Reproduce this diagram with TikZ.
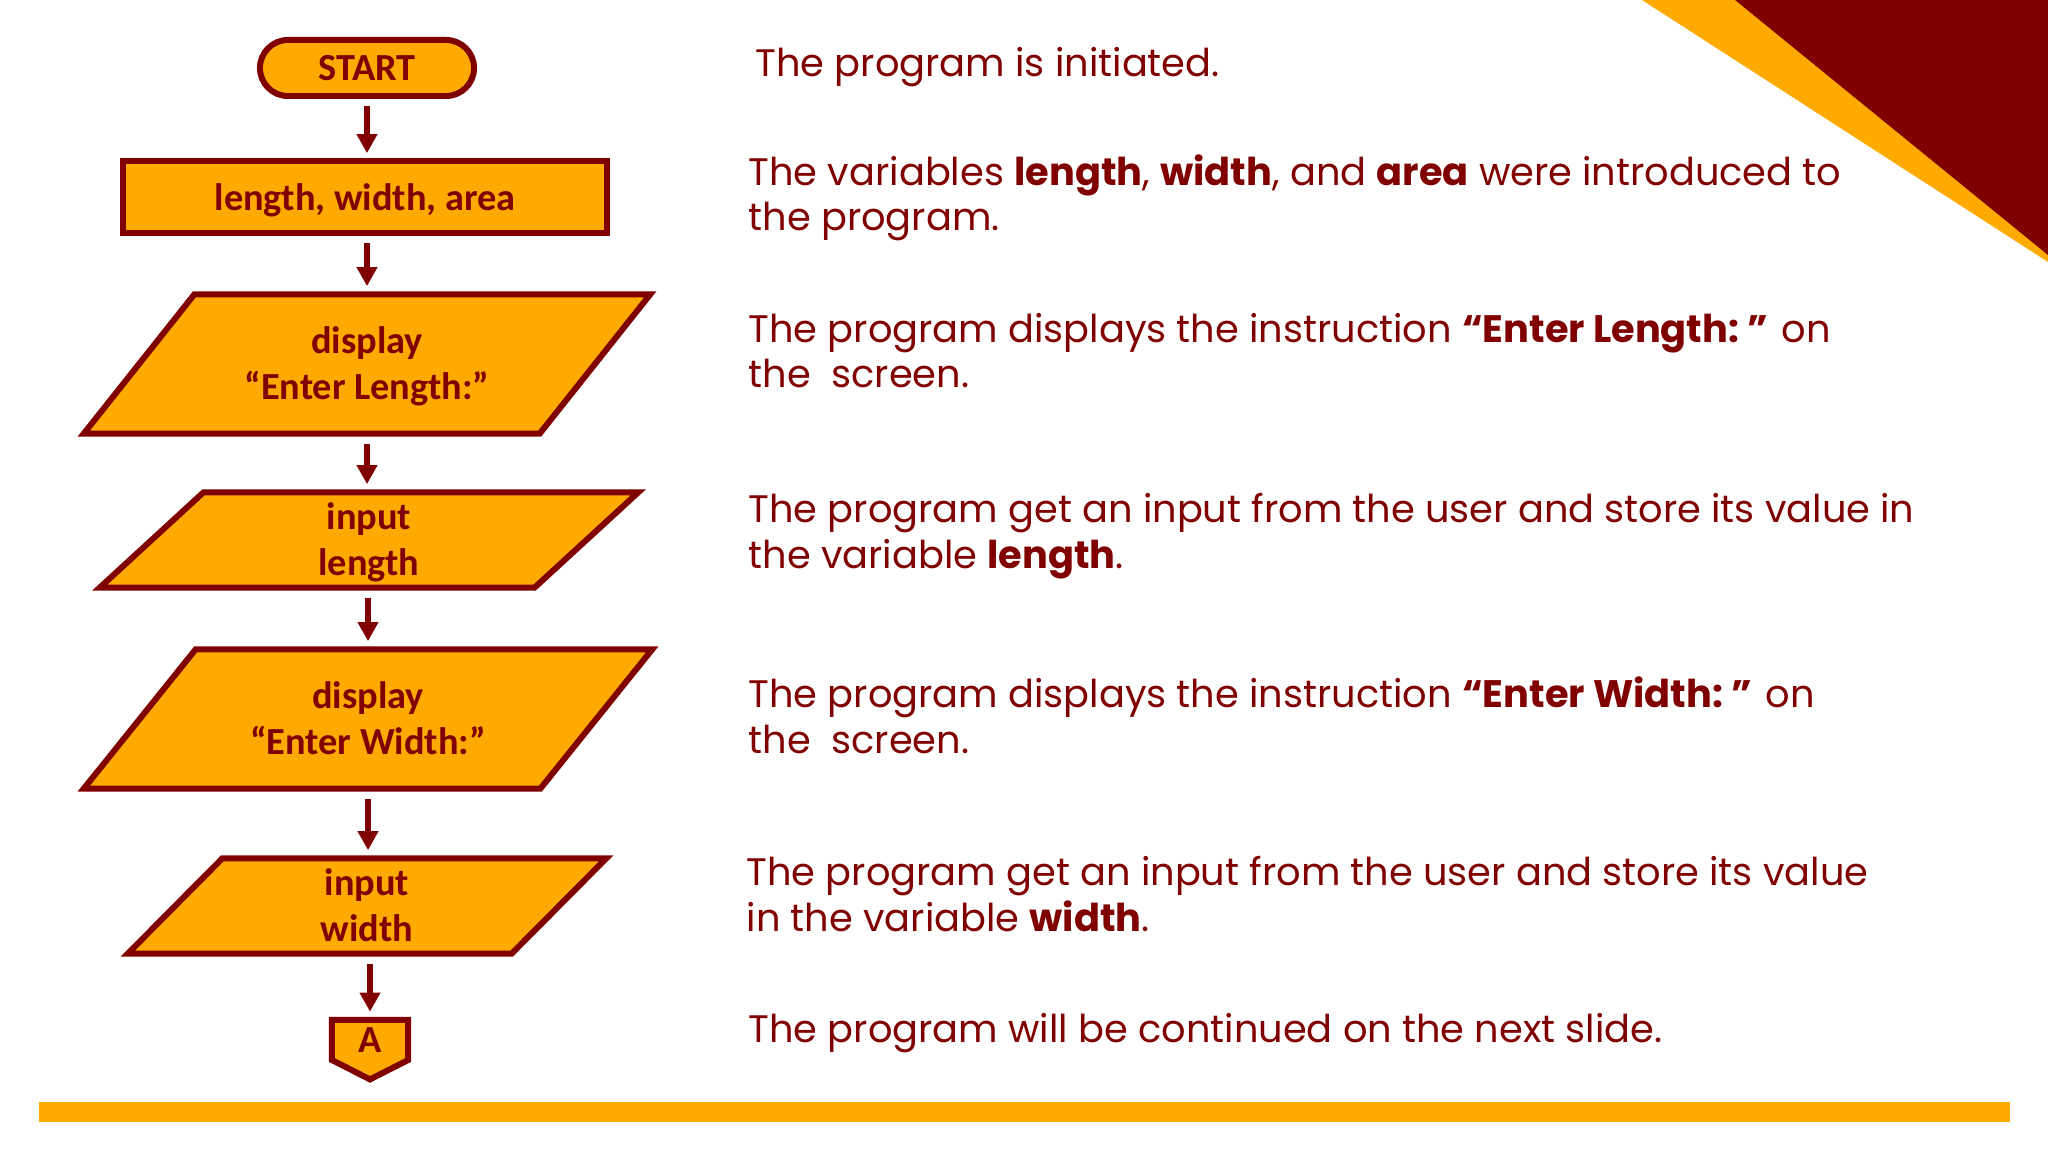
\documentclass[tikz,border=0pt]{standalone}
\usepackage{fontspec}
\setmainfont{Poppins}
\newfontfamily\flowfont{Carlito}
\usetikzlibrary{arrows.meta,shapes.geometric,shapes.misc,shapes.symbols}
\definecolor{maroon}{RGB}{128,0,0}
\definecolor{amber}{RGB}{255,170,0}
\tikzset{
  box/.style={draw=maroon, fill=amber, line width=1.7pt, text=maroon, align=center, inner sep=0pt, text depth=0pt,
    font=\flowfont\bfseries\fontsize{10.9}{13}\selectfont},
  iobox/.style={box, trapezium, trapezium stretches body, text height=20pt},
  flowarrow/.style={maroon, line width=1.7pt, -{Triangle[width=5.6pt,length=5.4pt]}, shorten <=2pt, shorten >=1.5pt},
  note/.style={anchor=base west, align=left, text=maroon, inner sep=0pt, font=\fontsize{10.9}{12.8}\selectfont}
}
\begin{document}
\begin{tikzpicture}[x=0.01cm,y=-0.01cm]
  \useasboundingbox (0,0) rectangle (2048,1152);
  \fill[amber] (1642,0) -- (2048,0) -- (2048,262) -- cycle;
  \fill[maroon] (1735,0) -- (2048,0) -- (2048,255) -- cycle;
  \fill[amber] (39,1102) rectangle (2010,1122);

  \node[box, rounded rectangle, minimum width=2.14cm, minimum height=0.56cm] (start) at (367,68) {START};
  \node[box, minimum width=4.84cm, minimum height=0.71cm] (vars) at (365,197) {length, width, area};
  \node[iobox, trapezium left angle=32.5, trapezium right angle=147.5, minimum width=5.66cm, minimum height=1.39cm] (dispL) at (367,364) {display\\“Enter Length:”};
  \node[iobox, trapezium left angle=34.2, trapezium right angle=145.8, minimum width=5.38cm, minimum height=0.95cm] (inL) at (369,540) {input\\length};
  \node[iobox, trapezium left angle=32.2, trapezium right angle=147.8, minimum width=5.68cm, minimum height=1.39cm] (dispW) at (368,719) {display\\“Enter Width:”};
  \node[iobox, trapezium left angle=36.7, trapezium right angle=143.3, minimum width=4.78cm, minimum height=0.95cm] (inW) at (367,906) {input\\width};
  \node[box, signal, signal to=south, signal pointer angle=126, minimum width=0.76cm, minimum height=0.46cm] (conA) at (370,1040) {A};

  \draw[flowarrow] (start.south) -- (start.south |- vars.north);
  \draw[flowarrow] (vars.south -| dispL.north) -- (dispL.north);
  \draw[flowarrow] (dispL.south) -- (dispL.south |- inL.north);
  \draw[flowarrow] (inL.south -| dispW.north) -- (dispW.north);
  \draw[flowarrow] (dispW.south) -- (dispW.south |- inW.north);
  \draw[flowarrow] (inW.south -| conA.north) -- (conA.north);

  \node[note] (t1) at (755,77) {The program is initiated.};
  \node[note] (t2) at (748,231) {The variables \textbf{length}, \textbf{width}, and \textbf{area} were introduced to\\the program.};
  \node[note] (t3) at (748,388) {The program displays the instruction \textbf{“Enter Length:~”} on\\the\ \ screen.};
  \node[note] (t4) at (748,568) {The program get an input from the user and store its value in\\the variable \textbf{length}.};
  \node[note] (t5) at (748,753) {The program displays the instruction \textbf{“Enter Width:~”} on\\the\ \ screen.};
  \node[note] (t6) at (746,931) {The program get an input from the user and store its value\\in the variable \textbf{width}.};
  \node[note] (t7) at (748,1042) {The program will be continued on the next slide.};
\end{tikzpicture}
\end{document}
